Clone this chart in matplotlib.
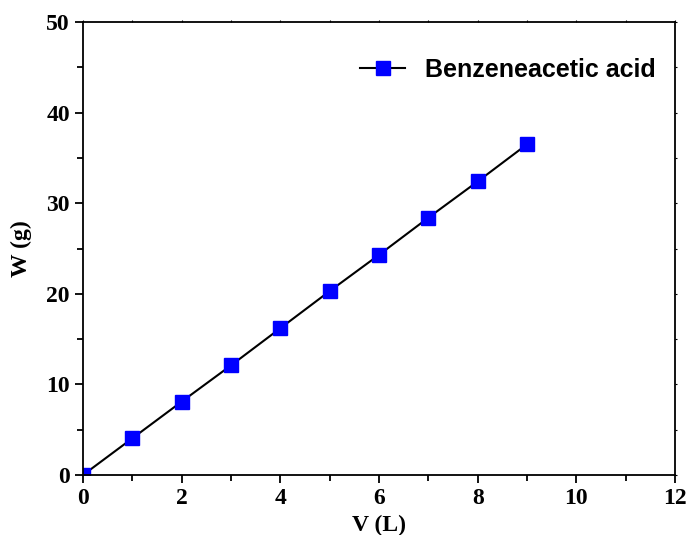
import numpy as np
import matplotlib.pyplot as plt
import matplotlib.ticker as tick

# data
V = [0, 1, 2, 3, 4, 5, 6, 7, 8, 9]
W = [0.0, 4.05, 8.1, 12.1, 16.2, 20.3, 24.3, 28.4, 32.4, 36.5]

fig = plt.figure(figsize=(6.87, 5.35), dpi=100)
ax = fig.add_axes([0.1208, 0.1121, 0.8617, 0.8467])

ax.plot(V, W, color='black', lw=1.5, marker='s', ms=10, mfc='blue', mec='blue',
        label='Benzeneacetic acid')

ax.set_xlim(0, 12)
ax.set_ylim(0, 50)
ax.xaxis.set_major_locator(tick.MultipleLocator(2))
ax.xaxis.set_minor_locator(tick.MultipleLocator(1))
ax.yaxis.set_major_locator(tick.MultipleLocator(10))
ax.yaxis.set_minor_locator(tick.MultipleLocator(5))
ax.tick_params(which='major', direction='out', length=6, width=1.3,
               labelsize=17, top=True, right=True)
ax.tick_params(which='minor', direction='out', length=4, width=1.3,
               top=True, right=True)
# ticks on top/right frame are barely visible in the original
for t in (ax.xaxis.get_major_ticks() + ax.xaxis.get_minor_ticks()
          + ax.yaxis.get_major_ticks() + ax.yaxis.get_minor_ticks()):
    t.tick2line.set_markersize(1.5)
    t.tick2line.set_markeredgewidth(0.8)
for s in ax.spines.values():
    s.set_linewidth(1.3)

for lab in ax.get_xticklabels() + ax.get_yticklabels():
    lab.set_fontfamily('Liberation Serif')
    lab.set_fontweight('bold')

ax.set_xlabel('V (L)', fontfamily='Liberation Serif', fontweight='bold',
              fontsize=17, labelpad=4)
ax.set_ylabel('W (g)', fontfamily='Liberation Serif', fontweight='bold',
              fontsize=17, labelpad=10)

ax.legend(loc='upper right', bbox_to_anchor=(0.985, 0.943), frameon=False,
          handlelength=1.8, handletextpad=0.8, borderaxespad=0,
          prop={'family': 'Liberation Sans', 'weight': 'bold', 'size': 18})

fig.savefig('out.png', dpi=100)
